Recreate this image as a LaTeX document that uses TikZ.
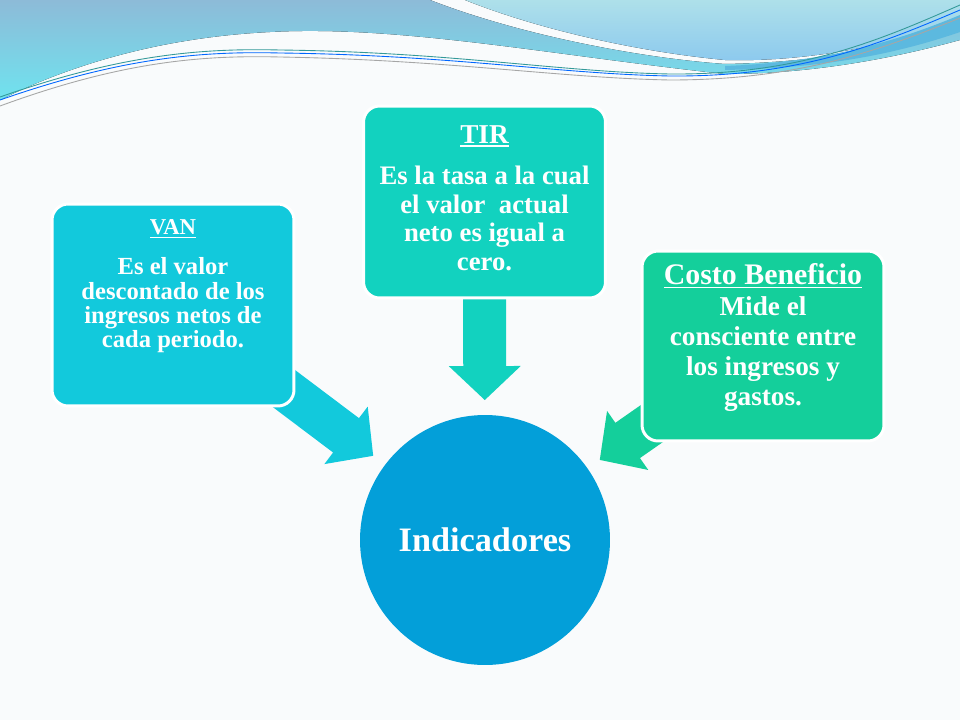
\documentclass[tikz,border=0pt]{standalone}
\usepackage{fontspec}
\setmainfont{Liberation Serif}
\newcommand{\uln}[1]{\leavevmode\setbox0=\hbox{#1}\rlap{\rule[-1.7pt]{\wd0}{0.7pt}}\box0}
\usetikzlibrary{calc,positioning}
\definecolor{vancol}{HTML}{12C9DC}
\definecolor{tircol}{HTML}{12D2BF}
\definecolor{cbcol}{HTML}{14CF9B}
\definecolor{indcol}{HTML}{039FD9}
\definecolor{pagecol}{HTML}{F9FBFC}
\definecolor{wavetop}{HTML}{8DBBD8}
\definecolor{wavelow}{HTML}{6FE3EF}
\definecolor{skytop}{HTML}{AEE0EA}
\definecolor{skylow}{HTML}{8CC9EE}
\definecolor{bandcol}{HTML}{5CB9DF}
\pgfdeclarelayer{bg}
\pgfdeclarelayer{arrowlayer}
\pgfsetlayers{bg,arrowlayer,main}
\tikzstyle{box}=[rectangle, draw=white, line width=1.7pt, rounded corners=0.32cm, minimum width=4.84cm]
\tikzstyle{vanbox}=[box, fill=vancol, minimum height=4.04cm]
\tikzstyle{tirbox}=[box, fill=tircol, minimum height=3.84cm]
\tikzstyle{cbbox}=[box, fill=cbcol, minimum height=3.8cm]
\tikzstyle{txt}=[text=white, align=center, inner sep=0pt]
\tikzstyle{ind}=[circle, fill=indcol, minimum size=5cm, inner sep=0pt, text=white, font=\bfseries\fontsize{19.5}{21}\selectfont]
% block arrow: colour, from node, to node
\newcommand{\blockarrow}[3]{%
  \path ($(#3)!2.8cm!(#2)$) coordinate (tp) ($(tp)!0.68cm!(#2)$) coordinate (bs);
  \fill[#1] ($(#2)!0.43cm!90:(tp)$) -- ($(bs)!0.43cm!90:(tp)$) -- ($(bs)!0.72cm!90:(tp)$) -- (tp)
    -- ($(bs)!0.72cm!-90:(tp)$) -- ($(bs)!0.43cm!-90:(tp)$) -- ($(#2)!0.43cm!-90:(tp)$) -- cycle;}

\begin{document}
\begin{tikzpicture}[x=0.02cm, y=-0.02cm]
\useasboundingbox (0,0) rectangle (960,720);
\begin{pgfonlayer}{bg}
\fill[pagecol] (0,0) rectangle (960,720);
% top wave
\fill[top color=wavetop, bottom color=wavelow] (0,0) -- (430,0) .. controls (520,35) and (640,58) .. (725,64)
  .. controls (830,62) and (900,45) .. (960,30) -- (960,40) .. controls (880,62) and (800,74) .. (725,74)
  .. controls (550,55) and (400,25) .. (270,32) .. controls (150,38) and (60,70) .. (0,100) -- cycle;
\fill[top color=skytop, bottom color=skylow] (465,0) -- (960,0) -- (960,22) .. controls (880,48) and (800,62) .. (725,60)
  .. controls (640,52) and (540,30) .. (465,0) -- cycle;
\fill[bandcol] (725,66) .. controls (830,62) and (900,40) .. (960,15) -- (960,32) .. controls (890,56) and (820,68) .. (725,70) -- cycle;
\draw[teal!80, line width=0.5pt] (0,97) .. controls (120,55) and (200,48) .. (280,50) .. controls (450,52) and (560,72) .. (670,74) .. controls (800,75) and (880,40) .. (960,5);
\draw[blue!60!cyan, line width=0.5pt] (0,100) .. controls (120,58) and (200,51) .. (280,53) .. controls (450,55) and (560,74) .. (670,76) .. controls (800,77) and (880,44) .. (960,10);
\draw[gray!70, line width=0.5pt] (0,106) .. controls (120,62) and (200,55) .. (280,57) .. controls (450,60) and (560,78) .. (670,80) .. controls (800,80) and (880,50) .. (960,18);
\end{pgfonlayer}

\node[vanbox] (van) at (173,305) {};
\node[tirbox] (tir) at (484.5,202) {};
\node[cbbox] (cb) at (763,346) {};
\node[ind] (indic) at (485,540) {Indicadores};

\node[txt, font=\bfseries\fontsize{14}{13.9}\selectfont, below=0.34cm of van.north] (vantxt)
  {{\fontsize{12.9}{14}\selectfont\uln{VAN}}\\[8.8pt]
   Es el valor\\descontado de los\\ingresos netos de\\cada periodo.};
\node[txt, font=\bfseries\fontsize{15.2}{16.3}\selectfont, below=0.42cm of tir.north] (tirtxt)
  {{\fontsize{15.5}{16}\selectfont\uln{TIR}}\\[7pt]
   Es la tasa a la cual\\el valor~ actual\\neto es igual a\\cero.};
\node[txt, font=\bfseries\fontsize{15.5}{17.2}\selectfont, below=0.28cm of cb.north] (cbtxt)
  {{\fontsize{17}{17}\selectfont\uln{Costo Beneficio}}\\
   Mide el\\consciente entre\\los ingresos y\\gastos.};

\begin{pgfonlayer}{arrowlayer}
\blockarrow{vancol}{van}{indic}
\blockarrow{tircol}{tir}{indic}
\blockarrow{cbcol}{cb}{indic}
\end{pgfonlayer}
\end{tikzpicture}
\end{document}
